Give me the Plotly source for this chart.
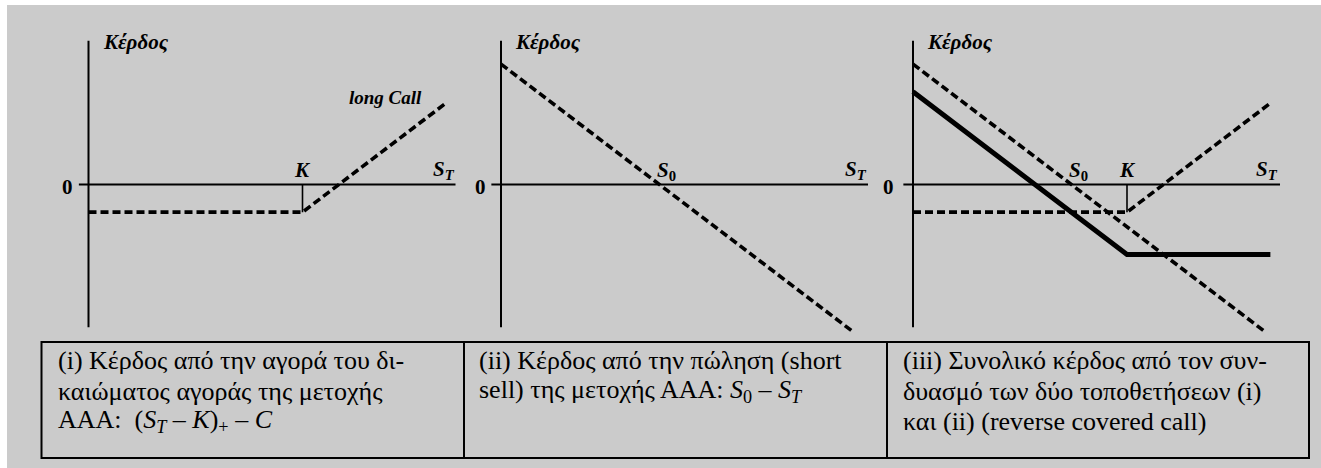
import plotly.graph_objects as go

W, H = 1321, 468
BG = "#cbcbcb"
FONT = "Liberation Serif, Times New Roman, DejaVu Serif, serif"

# Payoff diagram values: strike K = 100, spot S0 = 74, call premium C = 17
call_st = [0, 100, 167]
call_profit = [-17, -17, 50]
strike_mark_st = [100, 100]
strike_mark_profit = [0, -17]
short_st = [0, 165]
short_profit = [74, -91]
combo_st = [0, 100, 167]
combo_profit = [57, -43, -43]

axis_st = [-4.5, 171.5]
axis_profit = [88.4, -87.8]

panel_texts = [
    ["(i) Κέρδος από την αγορά του δι-",
     "καιώματος αγοράς της μετοχής",
     "ΑΑΑ:  (<i>S</i><sub><i>T</i></sub> – <i>K</i>)<sub>+</sub> – <i>C</i>"],
    ["(ii) Κέρδος από την πώληση (short",
     "sell) της μετοχής ΑΑΑ: <i>S</i><sub>0</sub> – <i>S</i><sub><i>T</i></sub>"],
    ["(iii) Συνολικό κέρδος από τον συν-",
     "δυασμό των δύο τοποθετήσεων (i)",
     "και (ii) (reverse covered call)"],
]

# pixel geometry of the three panels
origin_px = [88.5, 501, 913]
zero_py = 184.5
SX, SY = 2.14, 1.627
left_pad, right_pad = 20, 380
top_py, bot_py = 30, 340

fig = go.Figure()
dash = "8px,4px"


def add(k, x, y, width, dash_style="solid"):
    sfx = "" if k == 0 else str(k + 1)
    fig.add_trace(go.Scatter(
        x=x, y=y, mode="lines", xaxis="x" + sfx, yaxis="y" + sfx,
        line=dict(color="black", width=width, dash=dash_style),
        hoverinfo="skip", showlegend=False))


for k in range(3):
    add(k, [0, 0], axis_profit, 2)
    add(k, axis_st, [0, 0], 2)

# (i) long call
add(0, strike_mark_st, strike_mark_profit, 1.6)
add(0, call_st, call_profit, 3.6, dash)
# (ii) short stock
add(1, short_st, short_profit, 3.6, dash)
# (iii) combination
add(2, strike_mark_st, strike_mark_profit, 1.6)
add(2, short_st, short_profit, 3.6, dash)
add(2, call_st, call_profit, 3.6, dash)
add(2, combo_st, combo_profit, 5)

layout = dict(
    width=W, height=H, margin=dict(l=0, r=0, t=0, b=0),
    paper_bgcolor=BG, plot_bgcolor="rgba(0,0,0,0)", showlegend=False,
    font=dict(family=FONT, size=20, color="black"),
)
for k in range(3):
    sfx = "" if k == 0 else str(k + 1)
    ox = origin_px[k]
    layout["xaxis" + sfx] = dict(
        domain=[(ox - left_pad) / W, (ox + right_pad) / W],
        range=[-left_pad / SX, right_pad / SX],
        visible=False, fixedrange=True, anchor="y" + sfx)
    layout["yaxis" + sfx] = dict(
        domain=[1 - bot_py / H, 1 - top_py / H],
        range=[-(bot_py - zero_py) / SY, (zero_py - top_py) / SY],
        visible=False, fixedrange=True, anchor="x" + sfx)
fig.update_layout(**layout)


def px(x):
    return x / W


def py(y):
    return 1 - y / H


anns = []


def label(text, x, y, size=21, xanchor="center"):
    anns.append(dict(text=text, x=px(x), y=py(y), xref="paper", yref="paper",
                     xanchor=xanchor, yanchor="middle", showarrow=False,
                     font=dict(family=FONT, size=size, color="black")))


for k, x in enumerate([101, 513, 925]):
    label("<b><i>Κέρδος</i></b>", x, 42, 21, "left")
for x in [67, 480.5, 888]:
    label("<b>0</b>", x, 187, 21)
for x in [302.5, 1127]:
    label("<b><i>K</i></b>", x, 170)
for x in [666, 1078]:
    label("<b><i>S</i><sub>0</sub></b>", x, 171)
for x in [444, 856, 1267]:
    label("<b><i>S</i><sub><i>T</i></sub></b>", x, 170)
label("<b><i>long Call</i></b>", 385, 97, 19)

text_x = [56, 477, 901]
line_y = [360, 391, 421]
for k, lines in enumerate(panel_texts):
    for j, t in enumerate(lines):
        label(t, text_x[k], line_y[j], 26, "left")

shapes = [
    dict(type="rect", xref="paper", yref="paper", x0=0, x1=1, y0=py(5), y1=1,
         fillcolor="white", line=dict(width=0), layer="below"),
    dict(type="rect", xref="paper", yref="paper", x0=0, x1=px(7), y0=0, y1=1,
         fillcolor="white", line=dict(width=0), layer="below"),
    dict(type="rect", xref="paper", yref="paper", x0=px(41.5), x1=px(1309),
         y0=py(458), y1=py(342), line=dict(color="black", width=2)),
]
for x in [464, 887]:
    shapes.append(dict(type="line", xref="paper", yref="paper", x0=px(x), x1=px(x),
                       y0=py(458), y1=py(342), line=dict(color="black", width=2)))

fig.update_layout(annotations=anns, shapes=shapes)
fig.write_html("out.html")
